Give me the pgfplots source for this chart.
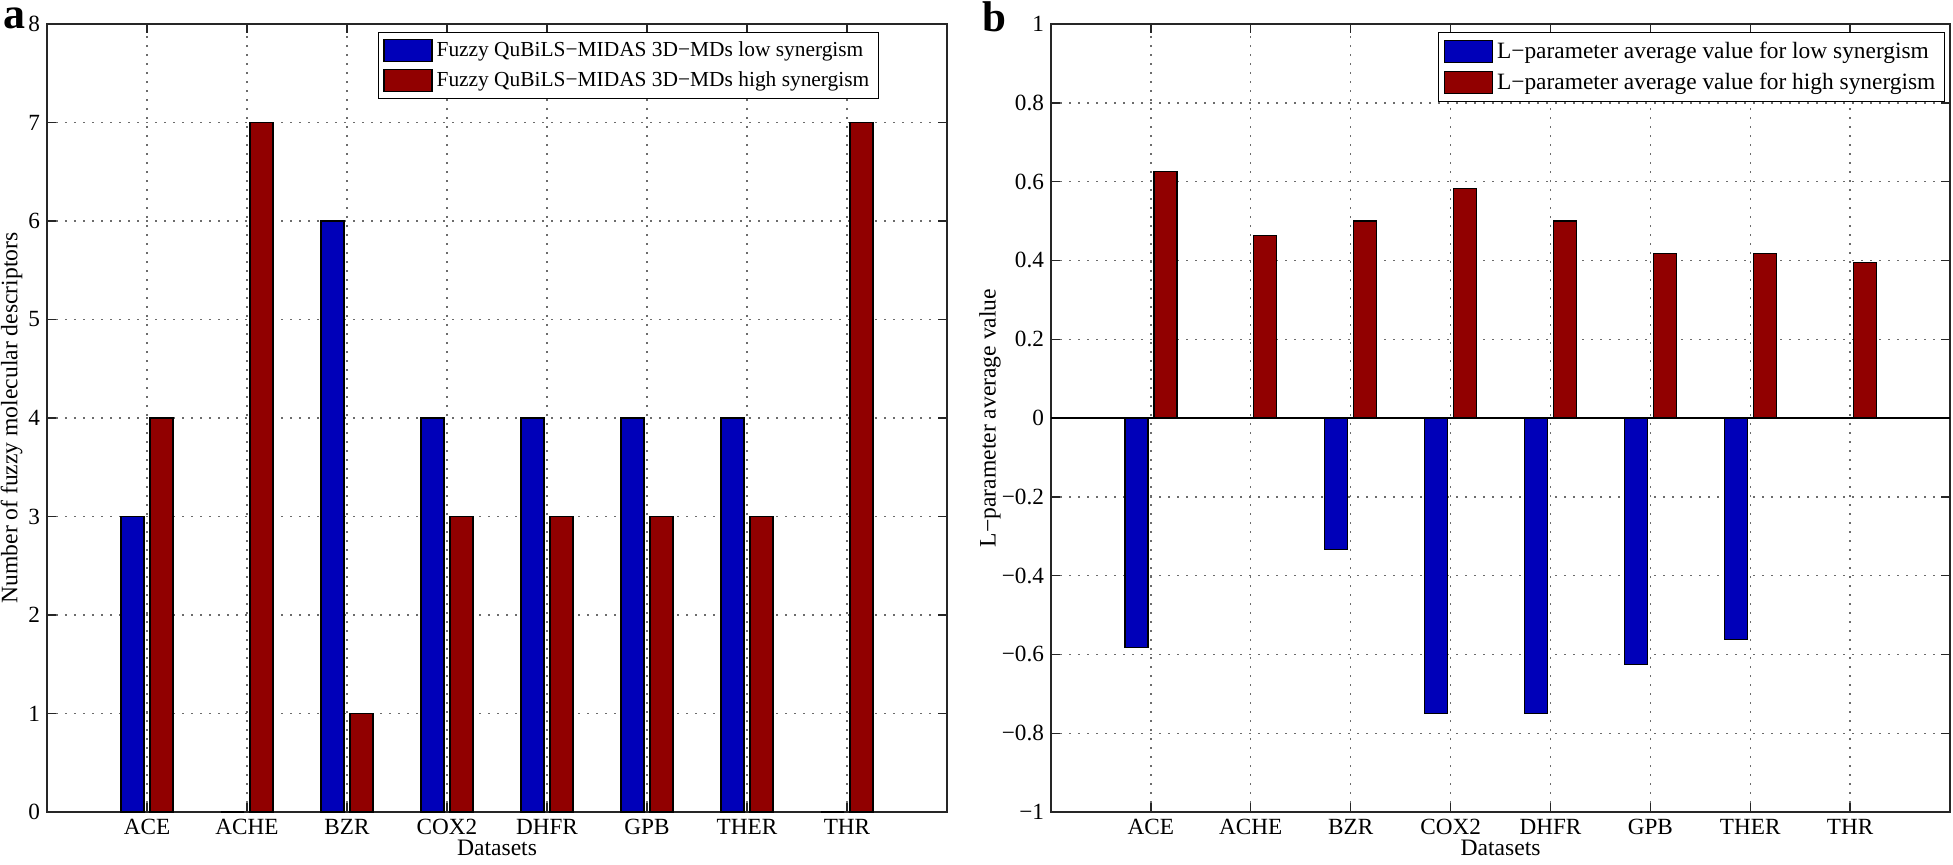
\documentclass[border=0pt]{standalone}
\usepackage{fontspec}
\setmainfont{Liberation Serif}
\usepackage{pgfplots}
\pgfplotsset{compat=1.18}
\definecolor{mblue}{RGB}{0,0,185}
\definecolor{mred}{RGB}{145,0,0}
\pgfplotsset{
  mystyle/.style={
    scale only axis, width=450pt, height=394pt,
    ybar=3pt, bar width=11.5pt,
    xmin=0, xmax=9, xtick={1,2,3,4,5,6,7,8},
    xticklabels={ACE,ACHE,BZR,COX2,DHFR,GPB,THER,THR},
    tick align=inside, major tick length=4.5pt,
    grid=major, major grid style={dash pattern=on 0.8pt off 3.7pt, gray!85!black, line width=0.7pt},
    axis line style={line width=0.7pt, black!85},
    every tick/.style={black!85, line width=0.7pt},
    tick label style={font=\fontsize{11.6}{13}\selectfont},
    label style={font=\fontsize{11.8}{13}\selectfont},
    /pgf/number format/assume math mode=true,
    legend style={font=\fontsize{10.7}{12.7}\selectfont, draw=black, line width=0.6pt,
      inner xsep=2.5pt, inner ysep=2.5pt, cells={anchor=west}, row sep=2pt},
    legend image code/.code={\draw[#1] (0pt,-5.5pt) rectangle (24pt,5.5pt);},
    xlabel=Datasets,
    xlabel style={yshift=4pt},
    every axis plot/.append style={draw=black, line width=0.6pt},
  }
}
\begin{document}
\begin{tikzpicture}
\useasboundingbox (0,0) rectangle (976.5pt,432pt);
\begin{axis}[mystyle, at={(23.5pt,26pt)}, anchor=south west,
  ymin=0, ymax=8, ytick={0,1,2,3,4,5,6,7,8},
  ylabel={Number of fuzzy molecular descriptors},
  ylabel style={at={(axis description cs:-0.0394,0.5)}, anchor=center},
  legend style={at={(0.9244,0.9898)}, anchor=north east}]
\addplot[fill=mblue] coordinates {(1,3) (2,0) (3,6) (4,4) (5,4) (6,4) (7,4) (8,0)};
\addplot[fill=mred] coordinates {(1,4) (2,7) (3,1) (4,3) (5,3) (6,3) (7,3) (8,7)};
\legend{Fuzzy QuBiLS−MIDAS 3D−MDs low synergism, Fuzzy QuBiLS−MIDAS 3D−MDs high synergism}
\end{axis}
\begin{axis}[mystyle, at={(525.5pt,26pt)}, anchor=south west, width=449.5pt,
  ymin=-1, ymax=1, ytick={-1,-0.8,-0.6,-0.4,-0.2,0,0.2,0.4,0.6,0.8,1},
  yticklabels={−1,−0.8,−0.6,−0.4,−0.2,0,0.2,0.4,0.6,0.8,1},
  ylabel={L−parameter average value},
  ylabel style={at={(axis description cs:-0.068,0.5)}, anchor=center},
  legend style={at={(0.9944,0.9898)}, anchor=north east, font=\fontsize{11.7}{12.7}\selectfont, row sep=1.8pt}]
\addplot[fill=mblue] coordinates {(1,-0.5833) (2,0) (3,-0.3333) (4,-0.75) (5,-0.75) (6,-0.625) (7,-0.5625) (8,0)};
\addplot[fill=mred] coordinates {(1,0.625) (2,0.4625) (3,0.5) (4,0.5833) (5,0.5) (6,0.4167) (7,0.4167) (8,0.395)};
\legend{L−parameter average value for low synergism, L−parameter average value for high synergism}
\draw[black, line width=0.7pt] (axis cs:0,0) -- (axis cs:9,0);
\end{axis}
\node[anchor=base west, inner sep=0pt, font=\fontsize{22}{26}\selectfont\bfseries] at (1.5pt,417.5pt) {a};
\node[anchor=base west, inner sep=0pt, font=\fontsize{21.5}{26}\selectfont\bfseries] at (491pt,416pt) {b};
\end{tikzpicture}
\end{document}
